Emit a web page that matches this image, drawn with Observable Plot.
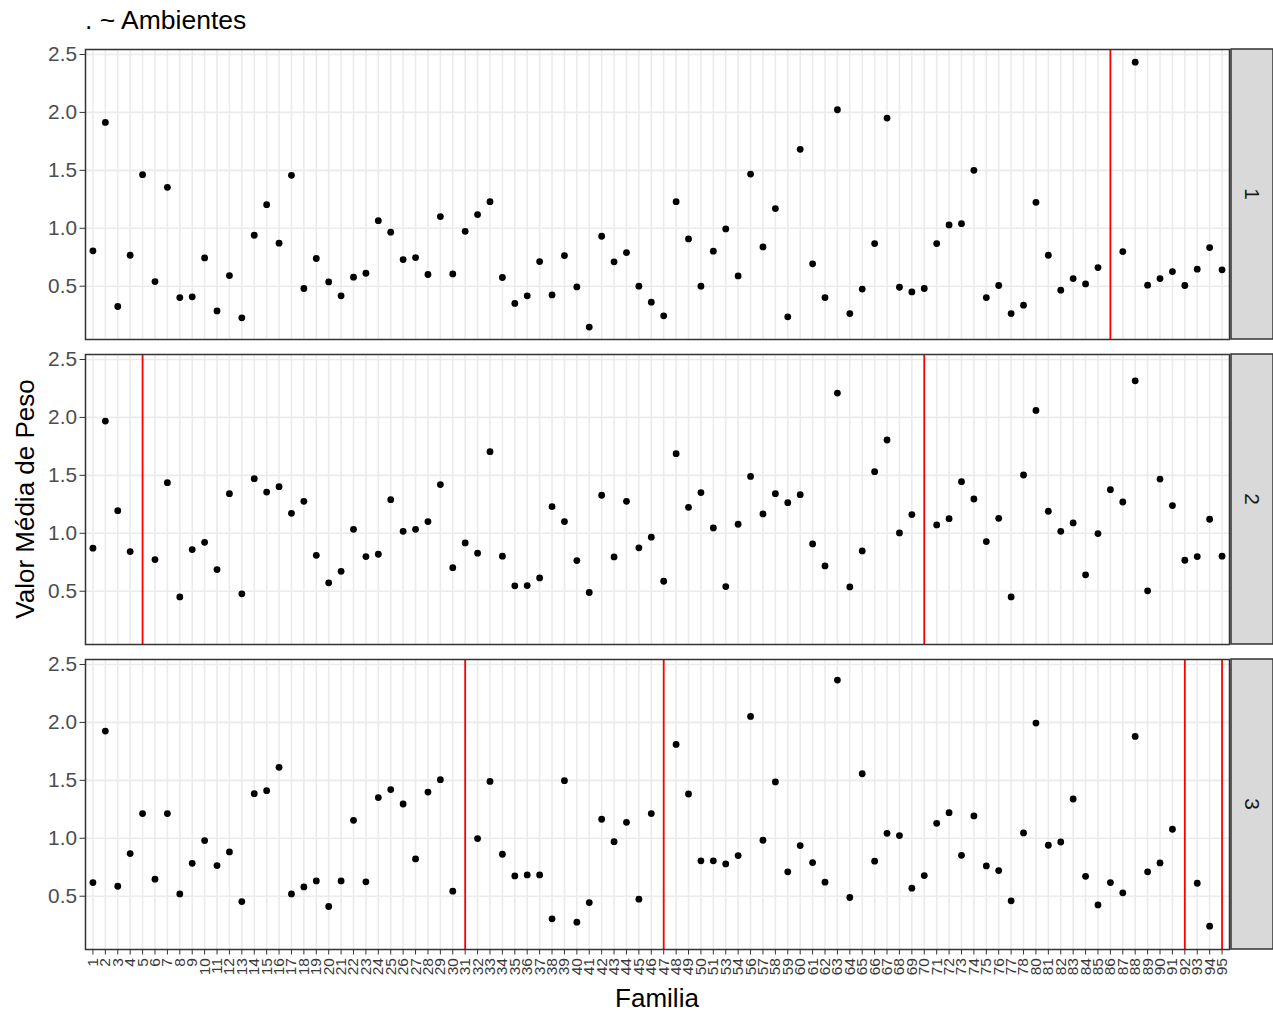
<!DOCTYPE html>
<html>
<head>
<meta charset="utf-8">
<script src="https://cdn.jsdelivr.net/npm/d3@7"></script>
<script src="https://cdn.jsdelivr.net/npm/@observablehq/plot@0.6"></script>
<style>
  html, body { margin: 0; padding: 0; background: white; }
  #titulo { height: 40px; line-height: 40px; padding-left: 85px; font-family: "Liberation Sans", Arial, sans-serif; font-size: 26.5px; color: black; white-space: pre; }
  #chart svg { display: block; }
</style>
</head>
<body>
<div id="titulo">. ~ Ambientes</div>
<div id="chart"></div>
<script>
// Familias (x tick labels, in order; 52, 55 and 79 are absent)
const familias = ["1","2","3","4","5","6","7","8","9","10","11","12","13","14","15","16","17","18","19","20",
  "21","22","23","24","25","26","27","28","29","30","31","32","33","34","35","36","37","38","39","40",
  "41","42","43","44","45","46","47","48","49","50","51","53","54","56","57","58","59","60","61","62",
  "63","64","65","66","67","68","69","70","71","72","73","74","75","76","77","78","80","81","82","83",
  "84","85","86","87","88","89","90","91","92","93","94","95"];

// Valor Média de Peso per familia, one array per ambiente (null = missing)
const amb1 = [0.805,1.914,0.325,0.767,1.463,0.540,1.353,0.402,0.408,0.744,
  0.287,0.592,0.227,0.940,1.204,0.871,1.457,0.480,0.739,0.537,
  0.417,0.578,0.612,1.066,0.966,0.730,0.747,0.601,1.101,0.606,
  0.974,1.118,1.230,0.575,0.351,0.417,0.713,0.425,0.764,0.494,
  0.147,0.931,0.710,0.790,0.500,0.362,0.244,1.230,0.908,0.500,
  0.802,0.994,0.589,1.468,0.839,1.170,0.236,1.681,0.693,0.402,
  2.023,0.264,0.475,0.868,1.951,0.491,0.451,0.480,0.868,1.029,
  1.040,1.500,0.402,0.506,0.264,0.336,1.224,0.767,0.466,0.566,
  0.520,0.661,null,0.799,2.434,0.509,0.566,0.626,0.506,0.647,
  0.833,0.641];
const amb2 = [0.871,1.968,1.195,0.842,null,0.773,1.437,0.451,0.859,0.922,
  0.687,1.342,0.477,1.471,1.356,1.402,1.172,1.276,0.810,0.572,
  0.672,1.034,0.799,0.819,1.290,1.017,1.034,1.101,1.420,0.703,
  0.917,0.828,1.704,0.802,0.546,0.549,0.615,1.230,1.101,0.764,
  0.489,1.328,0.796,1.276,0.874,0.966,0.586,1.687,1.224,1.351,
  1.046,0.540,1.078,1.491,1.167,1.342,1.264,1.333,0.908,0.718,
  2.210,0.537,0.848,1.532,1.805,1.003,1.161,null,1.072,1.126,
  1.445,1.296,0.928,1.129,0.451,1.503,2.060,1.190,1.017,1.089,
  0.641,0.997,1.376,1.270,2.316,0.503,1.468,1.239,0.767,0.799,
  1.121,0.802];
const amb3 = [0.618,1.925,0.586,0.868,1.213,0.647,1.213,0.520,0.784,0.980,
  0.764,0.882,0.454,1.385,1.411,1.612,0.520,0.580,0.632,0.411,
  0.632,1.155,0.624,1.351,1.420,1.296,0.822,1.399,1.506,0.543,
  null,0.997,1.491,0.862,0.675,0.684,0.684,0.305,1.497,0.276,
  0.445,1.164,0.971,1.138,0.474,1.213,null,1.810,1.382,0.805,
  0.805,0.779,0.851,2.052,0.983,1.486,0.710,0.937,0.790,0.621,
  2.365,0.489,1.557,0.802,1.043,1.023,0.569,0.678,1.129,1.221,
  0.853,1.193,0.761,0.721,0.460,1.046,1.994,0.940,0.968,1.339,
  0.672,0.425,0.618,0.529,1.879,0.710,0.787,1.078,null,0.612,
  0.241,null];

// Red reference lines per ambiente
const rojo1 = ["86"];
const rojo2 = ["5","70"];
const rojo3 = ["31","47","92","95"];

const ambientes = ["1","2","3"];
const yTicks = [0.5, 1.0, 1.5, 2.0, 2.5];

const series = {"1": amb1, "2": amb2, "3": amb3};
const datos = ambientes.flatMap(a => familias.map((f, i) => ({familia: f, amb: a, valor: series[a][i]})))
  .filter(d => d.valor != null);
const rojos = [
  ...rojo1.map(f => ({familia: f, amb: "1"})),
  ...rojo2.map(f => ({familia: f, amb: "2"})),
  ...rojo3.map(f => ({familia: f, amb: "3"}))
];

const W = 1273, H = 972, mL = 85, mR = 44, mT = 8.5, mB = 62.5;
const FONT = "'Liberation Sans', Arial, Helvetica, sans-serif";

const plot = Plot.plot({
  width: W, height: H,
  marginLeft: mL, marginRight: mR, marginTop: mT, marginBottom: mB,
  style: {fontFamily: FONT, background: "white", overflow: "visible"},
  x: {type: "point", domain: familias, padding: 0.6, label: null},
  y: {domain: [0.04, 2.543], label: null},
  fy: {domain: ambientes, paddingInner: 0.048, paddingOuter: 0, axis: null, label: null},
  marks: [
    Plot.gridX({stroke: "#EBEBEB", strokeOpacity: 1, strokeWidth: 1.6}),
    Plot.gridY(yTicks, {stroke: "#EBEBEB", strokeOpacity: 1, strokeWidth: 1.6}),
    Plot.ruleX(rojos, {x: "familia", fy: "amb", stroke: "#FF0000", strokeWidth: 1.8}),
    Plot.dot(datos, {x: "familia", y: "valor", fy: "amb", r: 3.4, fill: "black", stroke: "none"}),
    Plot.frame({stroke: "#333333", strokeWidth: 1.5}),
    Plot.axisY(yTicks, {tickSize: 5.5, tickPadding: 3, fontSize: 20.8, stroke: "#333333", fill: "#4D4D4D",
      tickFormat: d3.format(".1f"), label: null}),
    Plot.axisX({tickRotate: -90, tickSize: 5.5, tickPadding: 3, fontSize: 15.5, stroke: "#333333",
      fill: "#3A3A3A", label: null})
  ]
});

document.getElementById("chart").appendChild(plot);
const svgEl = plot.tagName.toLowerCase() === "svg" ? plot : plot.querySelector("svg");
const svg = d3.select(svgEl);
const fy = plot.scale("fy");

// facet strips on the right
const stripX = W - mR + 2;
const stripW = mR - 2;
for (const a of ambientes) {
  const y0 = fy.apply(a);
  const bw = fy.bandwidth;
  svg.append("rect")
    .attr("x", stripX).attr("y", y0).attr("width", stripW).attr("height", bw)
    .attr("fill", "#D9D9D9").attr("stroke", "#333333").attr("stroke-width", 1.5);
  svg.append("text")
    .attr("transform", `translate(${stripX + stripW / 2},${y0 + bw / 2}) rotate(90)`)
    .attr("text-anchor", "middle").attr("dy", "0.35em")
    .attr("font-family", FONT).attr("font-size", 20.8).attr("fill", "#1A1A1A")
    .text(a);
}

// axis titles
const yTop = fy.apply(ambientes[0]);
const yBot = fy.apply(ambientes[ambientes.length - 1]) + fy.bandwidth;
svg.append("text")
  .attr("transform", `translate(34,${(yTop + yBot) / 2}) rotate(-90)`)
  .attr("text-anchor", "middle")
  .attr("font-family", FONT).attr("font-size", 26).attr("fill", "black")
  .text("Valor Média de Peso");
svg.append("text")
  .attr("x", (mL + W - mR) / 2).attr("y", H - 5.4)
  .attr("text-anchor", "middle")
  .attr("font-family", FONT).attr("font-size", 26).attr("fill", "black")
  .text("Familia");
</script>
</body>
</html>
